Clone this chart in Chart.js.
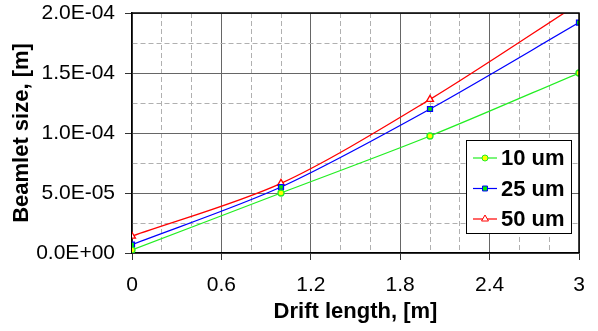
<!DOCTYPE html>
<html>
<head>
<meta charset="utf-8">
<script src="https://cdn.jsdelivr.net/npm/chart.js@4/dist/chart.umd.min.js"></script>
<style>
  html, body { margin: 0; padding: 0; background: #fff; }
</style>
</head>
<body>
<canvas id="beam-chart" width="598" height="331"></canvas>
<script>
// Drift length [m] and beamlet size [m] for each emitter size
const driftLength = [0, 1, 2, 3];
const size10um = [2.5e-6, 5.0e-5, 9.75e-5, 1.5e-4];
const size25um = [7.0e-6, 5.5e-5, 1.2e-4, 1.92e-4];
const size50um = [1.4e-5, 5.8e-5, 1.28e-4, 2.08e-4];
const seriesNames = ['10 um', '25 um', '50 um'];

const FONT = "'Liberation Sans', Arial, Helvetica, sans-serif";

function isMultiple(v, step) {
  const r = v / step;
  return Math.abs(r - Math.round(r)) < 1e-6;
}

function fmtSci(v) {
  if (Math.abs(v) < 1e-15) return '0.0E+00';
  let exp = Math.floor(Math.log10(Math.abs(v)) + 1e-9);
  let man = v / Math.pow(10, exp);
  if (Math.abs(man) >= 9.95) { man /= 10; exp += 1; }
  const sign = exp < 0 ? '-' : '+';
  return man.toFixed(1) + 'E' + sign + String(Math.abs(exp)).padStart(2, '0');
}

function pts(ys) {
  return driftLength.map((x, i) => ({ x: x, y: ys[i] }));
}

// box legend inside the plot, bottom right
const boxLegend = {
  id: 'boxLegend',
  afterDraw(chart) {
    const { ctx, chartArea } = chart;
    const w = 105, h = 93;
    const x0 = Math.round(chartArea.right - 8 - w);
    const y0 = Math.round(chartArea.bottom - 20 - h);
    ctx.save();
    ctx.fillStyle = '#fff';
    ctx.fillRect(x0, y0, w, h);
    ctx.strokeStyle = '#000';
    ctx.lineWidth = 1;
    ctx.strokeRect(x0 + 0.5, y0 + 0.5, w, h);
    chart.data.datasets.forEach((ds, i) => {
      const cy = y0 + 18 + i * 30.5;
      ctx.strokeStyle = ds.borderColor;
      ctx.lineWidth = 1.2;
      ctx.beginPath();
      ctx.moveTo(x0 + 7, cy);
      ctx.lineTo(x0 + 31, cy);
      ctx.stroke();
      ctx.fillStyle = ds.pointBackgroundColor;
      ctx.strokeStyle = ds.borderColor;
      ctx.lineWidth = 1;
      Chart.helpers.drawPoint(ctx, {
        pointStyle: ds.pointStyle,
        radius: ds.pointRadius,
        borderWidth: 1
      }, x0 + 19, cy);
      ctx.fillStyle = '#000';
      ctx.font = 'bold 22px ' + FONT;
      ctx.textAlign = 'left';
      ctx.textBaseline = 'middle';
      ctx.fillText(ds.label, x0 + 35, cy + 1);
    });
    ctx.restore();
  }
};

// top and right frame lines
const frame = {
  id: 'frame',
  afterDatasetsDraw(chart) {
    const { ctx, chartArea } = chart;
    ctx.save();
    ctx.strokeStyle = '#000';
    ctx.lineWidth = 1.5;
    ctx.beginPath();
    ctx.moveTo(chartArea.left, chartArea.top);
    ctx.lineTo(chartArea.right, chartArea.top);
    ctx.lineTo(chartArea.right, chartArea.bottom);
    ctx.stroke();
    ctx.restore();
  }
};

function gridOpts(major) {
  return {
    color: (c) => (c.tick && major(c.tick.value)) ? '#666' : '#b0b0b0',
    lineWidth: 1,
    tickLength: 7,
    tickColor: (c) => (c.tick && major(c.tick.value)) ? '#333' : 'rgba(0,0,0,0)'
  };
}

new Chart(document.getElementById('beam-chart'), {
  type: 'line',
  data: {
    datasets: [
      {
        label: seriesNames[0],
        data: pts(size10um),
        borderColor: '#22ee22',
        pointBackgroundColor: '#ffff00',
        pointBorderColor: '#22ee22',
        pointStyle: 'circle',
        pointRadius: 3,
        borderWidth: 1.3,
        tension: 0.3
      },
      {
        label: seriesNames[1],
        data: pts(size25um),
        borderColor: '#0000ff',
        pointBackgroundColor: '#00ee00',
        pointBorderColor: '#0000ff',
        pointStyle: 'rect',
        pointRadius: 3.5,
        borderWidth: 1.3,
        tension: 0.3
      },
      {
        label: seriesNames[2],
        data: pts(size50um),
        borderColor: '#ff0000',
        pointBackgroundColor: '#ffffff',
        pointBorderColor: '#ff0000',
        pointStyle: 'triangle',
        pointRadius: 4,
        borderWidth: 1.3,
        tension: 0.3
      }
    ]
  },
  options: {
    responsive: false,
    animation: false,
    layout: { padding: { left: 9, right: 19, top: 13, bottom: 6 } },
    plugins: {
      legend: { display: false },
      tooltip: { enabled: false }
    },
    scales: {
      x: {
        type: 'linear',
        min: 0,
        max: 3,
        grid: gridOpts((v) => isMultiple(v, 0.6)),
        border: {
          color: '#000',
          width: 1.5,
          dash: (c) => (c.tick && isMultiple(c.tick.value, 0.6)) ? [] : [5, 3]
        },
        ticks: {
          stepSize: 0.2,
          autoSkip: false,
          maxRotation: 0,
          padding: 13,
          color: '#000',
          font: { family: FONT, size: 21 },
          callback: (v) => isMultiple(v, 0.6) ? String(+v.toFixed(1)) : ''
        },
        title: {
          display: true,
          text: 'Drift length, [m]',
          color: '#000',
          font: { family: FONT, size: 22, weight: 'bold' },
          padding: { top: 2, bottom: 0 }
        },
        afterFit: (s) => { s.height = 72; s.paddingLeft = 0; s.paddingRight = 0; }
      },
      y: {
        min: 0,
        max: 2e-4,
        grid: gridOpts((v) => isMultiple(v, 5e-5)),
        border: {
          color: '#000',
          width: 1.5,
          dash: (c) => (c.tick && isMultiple(c.tick.value, 5e-5)) ? [] : [5, 3]
        },
        ticks: {
          stepSize: 2.5e-5,
          autoSkip: false,
          padding: 10,
          color: '#000',
          font: { family: FONT, size: 21 },
          callback: (v) => isMultiple(v, 5e-5) ? fmtSci(v) : ''
        },
        title: {
          display: true,
          text: 'Beamlet size, [m]',
          color: '#000',
          font: { family: FONT, size: 22, weight: 'bold' },
          padding: { top: 0, bottom: 0 }
        },
        afterFit: (s) => { s.width = 123; s.paddingTop = 0; s.paddingBottom = 0; }
      }
    }
  },
  plugins: [frame, boxLegend]
});
</script>
</body>
</html>
